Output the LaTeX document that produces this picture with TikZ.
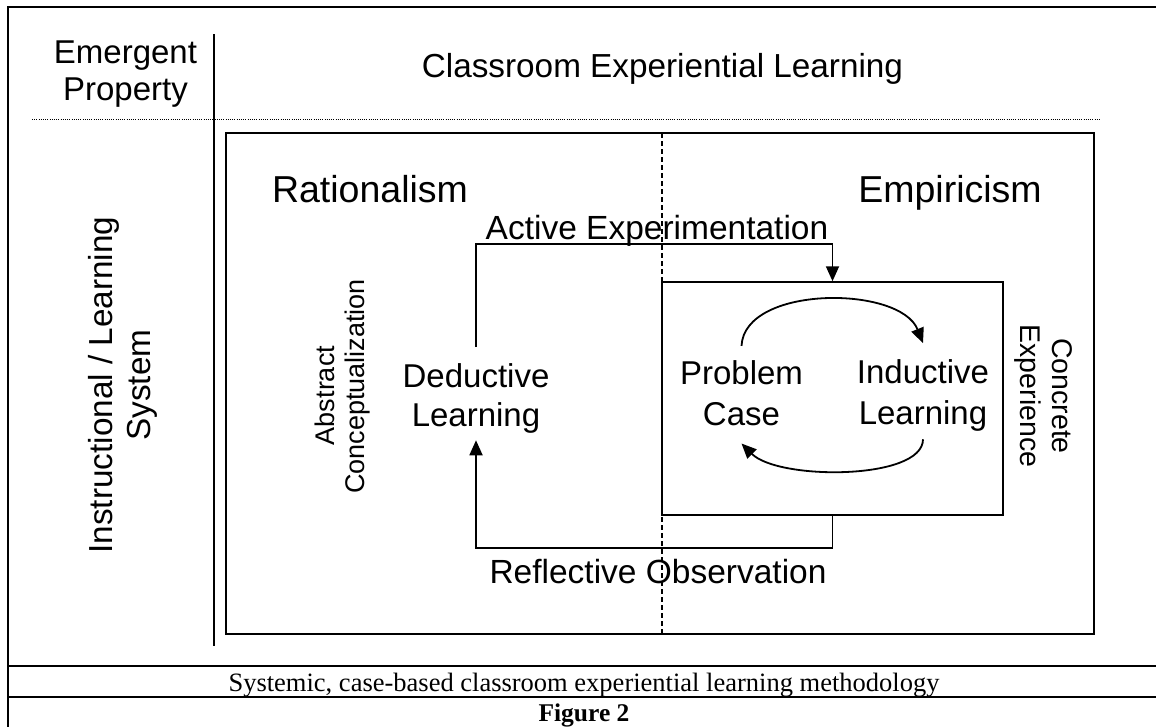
\documentclass[tikz,border=0pt]{standalone}
\usepackage{fontspec}
\setmainfont{Liberation Sans}
\newfontfamily\capfont{Liberation Serif}
\usetikzlibrary{arrows.meta,calc}
\begin{document}
\begin{tikzpicture}[x=1pt,y=-1pt,
  frame/.style={line width=2pt},
  boxline/.style={line width=1.5pt},
  conn/.style={line width=1.8pt},
  arr/.style={conn,-{Triangle[length=15pt,width=13pt]}},
  txt/.style={inner sep=0pt,align=center,font=\fontsize{33}{40}\selectfont},
  big/.style={inner sep=0pt,font=\fontsize{37.5}{44}\selectfont},
  dotline/.style={line width=0.9pt,dash pattern=on 1pt off 1.2pt},
  dashline/.style={line width=1.2pt,dash pattern=on 5pt off 3pt}]
\useasboundingbox (0,0) rectangle (1156,726);
% frame and table lines
\draw[frame] (8,6.5) rectangle (1162,740);
\draw[frame] (8,666) -- (1162,666);
\draw[frame] (8,697) -- (1162,697);
\draw[line width=1.8pt] (214,34) -- (214,646);
\draw[dotline] (32,119) -- (1100,119);
% main box and divider
\draw[boxline] (226,133) rectangle (1094,634);
\draw[dashline] (662,133) -- (662,634);
\node[draw,boxline,fill=none,minimum width=341pt,minimum height=233pt,inner sep=0pt] (pbox) at (832.5,398.5) {};
% headings
\node[txt] (emerg) at (125.5,74) [font=\fontsize{33}{37}\selectfont] {Emergent\\Property};
\node[txt,anchor=base,font=\fontsize{33.3}{38}\selectfont] (title) at (662.5,77) {Classroom Experiential Learning};
\node[txt,rotate=90,font=\fontsize{33.3}{38}\selectfont] (ils) at (122.4,385) {Instructional / Learning\\System};
\node[big,anchor=base] (rat) at (370,202) {Rationalism};
\node[big,anchor=base] (emp) at (950,202) {Empiricism};
% side labels
\node[txt,rotate=90,font=\fontsize{27}{29.3}\selectfont] (ac) at (342.5,386.5) {\hspace*{-18pt}Abstract\\Conceptualization};
\node[txt,rotate=-90,font=\fontsize{28.5}{32}\selectfont] (ce) at (1043.5,396) {Concrete\\Experience};
% learning nodes
\node[txt,font=\fontsize{33}{39}\selectfont] (ded) at (476,398.2) {Deductive\\Learning};
\node[txt,font=\fontsize{33}{41}\selectfont] (prob) at (741.5,392.7) {Problem\\Case};
\node[txt,font=\fontsize{33}{41}\selectfont] (ind) at (923,395.2) {Inductive\\Learning};
% connector labels
\node[txt,anchor=base,font=\fontsize{33.5}{40}\selectfont] (ae) at (657,239) {Active Experimentation};
\node[txt,anchor=base,font=\fontsize{33.5}{40}\selectfont] (ro) at (658,583) {Reflective Observation};
\coordinate (aetop) at (476,244);
\coordinate (robot) at (476,548);
% connectors
\draw[arr] ([yshift=16pt]ded.north) -- (ded.north |- aetop) -| (pbox.north);
\draw[arr] (pbox.south) -- (pbox.south |- robot) -| ([yshift=-7pt]ded.south);
\draw[arr] ([yshift=14pt]prob.north) .. controls +(3,-61) and +(-23,-58) .. ([yshift=16pt]ind.north);
\draw[arr] ([yshift=-8pt]ind.south) .. controls +(0,41) and +(37,37) .. ([yshift=-18pt]prob.south);
% caption
\node[inner sep=0pt,anchor=base,font=\capfont\fontsize{26.5}{30}\selectfont] (cap) at (584,691.5) {Systemic, case-based classroom experiential learning methodology};
\node[inner sep=0pt,anchor=base,font=\capfont\bfseries\fontsize{25.5}{29}\selectfont] (fig) at (584,721) {Figure 2};
\end{tikzpicture}
\end{document}
